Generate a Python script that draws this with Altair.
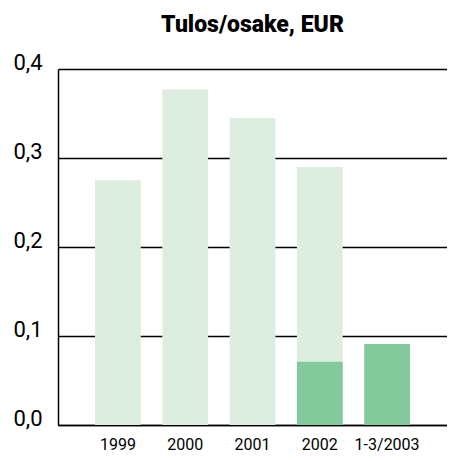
import altair as alt
import pandas as pd

categories = ["1999", "2000", "2001", "2002", "1-3/2003"]
full_year = [0.275, 0.377, 0.345, 0.290, None]
q1_values = [None, None, None, 0.071, 0.091]

rows = []
for c, f, q in zip(categories, full_year, q1_values):
    rows.append({"cat": c, "full": f, "q1": q})
df = pd.DataFrame(rows)

light = "#ddede0"
dark = "#84c99b"

x = alt.X("cat:N", sort=categories, title=None,
          scale=alt.Scale(paddingInner=0.32, paddingOuter=0.55),
          axis=alt.Axis(labelAngle=0, ticks=False, domain=True, domainColor="black",
                        domainWidth=1.5, labelFontSize=16, labelPadding=11,
                        labelFont="Roboto", labelColor="black", grid=False))
yscale = alt.Scale(domain=[0, 0.4], nice=False)
yaxis = alt.Axis(values=[0, 0.1, 0.2, 0.3, 0.4], ticks=False, domainColor="black", domainWidth=1.5,
                 gridColor="black", gridWidth=1.5, grid=True, gridOpacity=1,
                 labelExpr="replace(format(datum.value, '.1f'), '.', ',')",
                 labelFontSize=22, labelFont="Roboto", labelColor="black",
                 labelPadding=16, labelBaseline="alphabetic", title=None)

base = alt.Chart(df)
bars_full = base.mark_bar(color=light).encode(
    x=x, y=alt.Y("full:Q", scale=yscale, axis=yaxis))
bars_q1 = base.mark_bar(color=dark).encode(
    x=x, y=alt.Y("q1:Q", scale=yscale, axis=yaxis))

chart = alt.layer(bars_full, bars_q1).properties(
    width=389, height=356,
    title=alt.TitleParams("Tulos/osake, EUR", fontSize=23, fontWeight=900, font="Roboto",
                          anchor="middle", offset=14, color="black"),
    padding={"left": 50, "top": 61, "right": 0, "bottom": 28},
    autosize=alt.AutoSizeParams(type="none"),
).configure_view(stroke=None)

chart.save("out.html", embed_options={"renderer": "svg", "actions": False})
